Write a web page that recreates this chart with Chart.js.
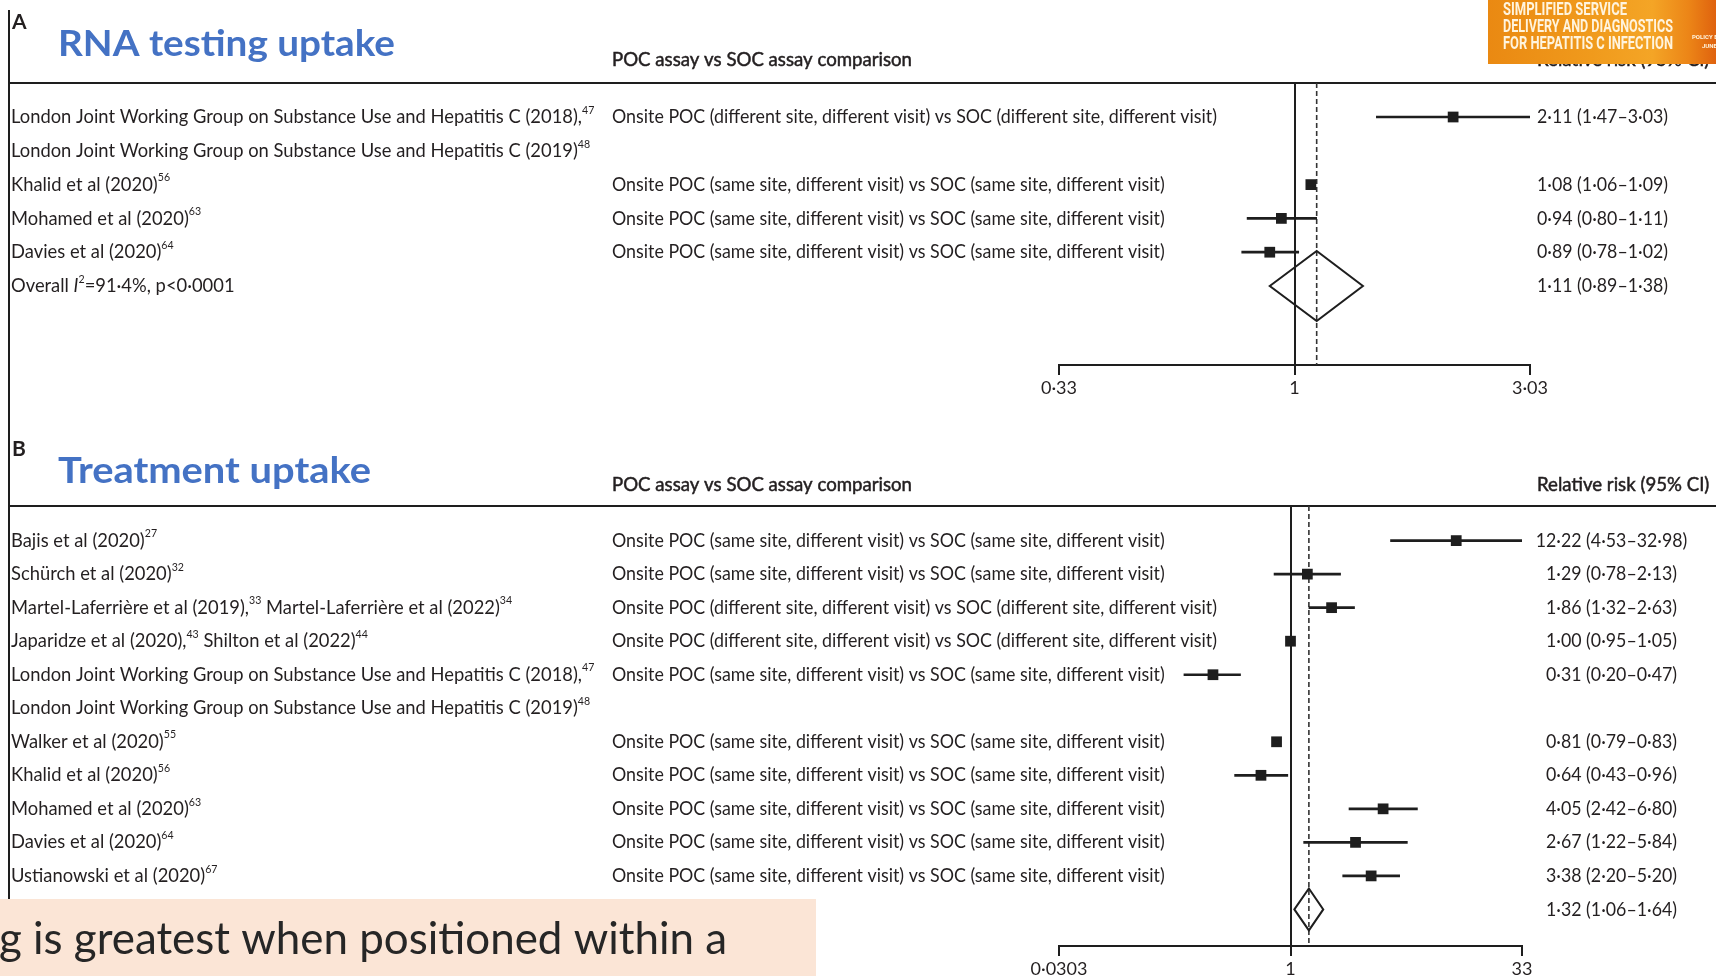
<!DOCTYPE html>
<html><head><meta charset="utf-8">
<script src="https://cdn.jsdelivr.net/npm/chart.js"></script>
<style>
html,body{margin:0;padding:0;background:#fff;width:1716px;height:976px;overflow:hidden;}
canvas{position:absolute;left:0;}
#cA{top:0;} #cB{top:420px;} #ov{top:0;pointer-events:none;}
</style></head><body>
<canvas id="cA" width="1716" height="410"></canvas>
<canvas id="cB" width="1716" height="556"></canvas>
<canvas id="ov" width="1716" height="976"></canvas>
<script>
// ================= DATA =================
const SAME = "Onsite POC (same site, different visit) vs SOC (same site, different visit)";
const DIFF = "Onsite POC (different site, different visit) vs SOC (different site, different visit)";

// Panel A – RNA testing uptake
const studiesA = [
  "London Joint Working Group on Substance Use and Hepatitis C (2018),^47^",
  "London Joint Working Group on Substance Use and Hepatitis C (2019)^48^",
  "Khalid et al (2020)^56^",
  "Mohamed et al (2020)^63^",
  "Davies et al (2020)^64^",
  "Overall ~I~^2^=91·4%, p<0·0001"
];
const comparisonsA = [DIFF, "", SAME, SAME, SAME, ""];
const rrA    = [2.11, null, 1.08, 0.94, 0.89, 1.11];
const lowerA = [1.47, null, 1.06, 0.80, 0.78, 0.89];
const upperA = [3.03, null, 1.09, 1.11, 1.02, 1.38];
const overallRowA = 5;
const tickValuesA = [0.33, 1, 3.03];
const tickLabelsA = ["0·33", "1", "3·03"];

// Panel B – Treatment uptake
const studiesB = [
  "Bajis et al (2020)^27^",
  "Schürch et al (2020)^32^",
  "Martel-Laferrière et al (2019),^33^ Martel-Laferrière et al (2022)^34^",
  "Japaridze et al (2020),^43^ Shilton et al (2022)^44^",
  "London Joint Working Group on Substance Use and Hepatitis C (2018),^47^",
  "London Joint Working Group on Substance Use and Hepatitis C (2019)^48^",
  "Walker et al (2020)^55^",
  "Khalid et al (2020)^56^",
  "Mohamed et al (2020)^63^",
  "Davies et al (2020)^64^",
  "Ustianowski et al (2020)^67^",
  ""
];
const comparisonsB = [SAME, SAME, DIFF, DIFF, SAME, "", SAME, SAME, SAME, SAME, SAME, ""];
const rrB    = [12.22, 1.29, 1.86, 1.00, 0.31, null, 0.81, 0.64, 4.05, 2.67, 3.38, 1.32];
const lowerB = [4.53, 0.78, 1.32, 0.95, 0.20, null, 0.79, 0.43, 2.42, 1.22, 2.20, 1.06];
const upperB = [32.98, 2.13, 2.63, 1.05, 0.47, null, 0.83, 0.96, 6.80, 5.84, 5.20, 1.64];
const overallRowB = 11;
const tickValuesB = [0.0303, 1, 33];
const tickLabelsB = ["0·0303", "1", "33"];

const headerComparison = "POC assay vs SOC assay comparison";
const headerRR = "Relative risk (95% CI)";
const bannerLines = ["SIMPLIFIED SERVICE", "DELIVERY AND DIAGNOSTICS", "FOR HEPATITIS C INFECTION"];
const bannerSmall = ["POLICY BRIEF", "JUNE"];
const footerText = "g is greatest when positioned within a";

// ================= STYLE / LAYOUT =================
const INK = '#1e1e1e';
const TEXT = '#231f20';
const BLUE = '#4472C4';
const FONT = 'Lato, "Open Sans", sans-serif';

const PANEL_A = {
  letter: 'A', title: 'RNA testing uptake', studies: studiesA, comparisons: comparisonsA,
  rr: rrA, lo: lowerA, hi: upperA, overall: overallRowA, ticks: tickValuesA, tickLabels: tickLabelsA,
  canvasH: 410, top: 83, bottom: 365, left: 1059, right: 1530, row0: 117, rowStep: 33.8, axisH: 40,
  rrX: 1537, letterBase: 29, titleBase: 56, titleW: 337, headY: 60, diamondHalf: 35
};
const PANEL_B = {
  letter: 'B', title: 'Treatment uptake', studies: studiesB, comparisons: comparisonsB,
  rr: rrB, lo: lowerB, hi: upperB, overall: overallRowB, ticks: tickValuesB, tickLabels: tickLabelsB,
  canvasH: 556, top: 86, bottom: 526, left: 1059, right: 1522, row0: 120.6, rowStep: 33.53, axisH: 30,
  rrX: 1546, letterBase: 36, titleBase: 63, titleW: 313, headY: 65, diamondHalf: 21
};

const fmt = v => v.toFixed(2).replace('.', '·');
const rrText = (P, i) => P.rr[i] == null ? "" : `${fmt(P.rr[i])} (${fmt(P.lo[i])}–${fmt(P.hi[i])})`;

function parseRich(t) {
  const out = []; const re = /\^([^^]*)\^|~([^~]*)~|([^^~]+)/g; let m;
  while ((m = re.exec(t))) {
    if (m[1] !== undefined) out.push({t: m[1], sup: true});
    else if (m[2] !== undefined) out.push({t: m[2], it: true});
    else out.push({t: m[3]});
  }
  return out;
}
const plain = t => parseRich(t).filter(s => !s.sup).map(s => s.t).join('');

let SX = {};
function measure(ctx, text, font) { ctx.font = font; return ctx.measureText(text).width; }

function drawRich(ctx, text, x, y, size, sx, opts = {}) {
  const segs = parseRich(text);
  ctx.save(); ctx.translate(x, y); ctx.scale(sx, 1);
  ctx.fillStyle = opts.color || TEXT; ctx.textBaseline = 'middle'; ctx.textAlign = 'left';
  let cx = 0;
  for (const s of segs) {
    const fs = s.sup ? Math.round(size * 0.6) : size;
    ctx.font = `${s.it ? 'italic ' : ''}${opts.weight || 'normal'} ${fs}px ${FONT}`;
    const dy = s.sup ? -size * 0.36 : 0;
    ctx.fillText(s.t, cx, dy);
    if (opts.stroke) { ctx.lineWidth = opts.stroke; ctx.strokeStyle = opts.color || TEXT; ctx.strokeText(s.t, cx, dy); }
    cx += ctx.measureText(s.t).width;
  }
  ctx.restore();
}

function forestPlugin(P) {
  return {
    id: 'forest' + P.letter,
    beforeDatasetsDraw(chart) {
      const {ctx, chartArea: a, scales: {x}} = chart;
      ctx.save();
      ctx.strokeStyle = INK; ctx.lineWidth = 2;
      ctx.beginPath(); ctx.moveTo(9, a.top); ctx.lineTo(chart.width, a.top); ctx.stroke();
      const x1 = Math.round(x.getPixelForValue(1));
      ctx.beginPath(); ctx.moveTo(x1, a.top); ctx.lineTo(x1, a.bottom); ctx.stroke();
      const xo = x.getPixelForValue(P.rr[P.overall]);
      ctx.setLineDash([5, 3]); ctx.lineWidth = 1.6; ctx.strokeStyle = '#333';
      ctx.beginPath(); ctx.moveTo(xo, a.top); ctx.lineTo(xo, a.bottom); ctx.stroke();
      ctx.restore();
    },
    afterDatasetsDraw(chart) {
      const {ctx, scales: {x, y}} = chart;
      const i = P.overall;
      const yc = y.getPixelForValue(i), h = P.diamondHalf;
      const xl = x.getPixelForValue(P.lo[i]), xm = x.getPixelForValue(P.rr[i]), xr = x.getPixelForValue(P.hi[i]);
      ctx.save(); ctx.strokeStyle = INK; ctx.lineWidth = 2; ctx.lineJoin = 'miter';
      ctx.beginPath(); ctx.moveTo(xl, yc); ctx.lineTo(xm, yc - h); ctx.lineTo(xr, yc); ctx.lineTo(xm, yc + h); ctx.closePath(); ctx.stroke();
      ctx.restore();
    },
    afterDraw(chart) {
      const {ctx, scales: {y}} = chart;
      ctx.save();
      ctx.fillStyle = TEXT; ctx.textBaseline = 'alphabetic';
      ctx.font = `bold 21px ${FONT}`; ctx.fillText(P.letter, 12, P.letterBase);
      const tf = `bold 36px ${FONT}`;
      const tsx = P.titleW / measure(ctx, P.title, tf);
      ctx.save(); ctx.translate(58, P.titleBase); ctx.scale(tsx, 1);
      ctx.font = tf; ctx.fillStyle = BLUE; ctx.fillText(P.title, 0, 0); ctx.restore();
      drawRich(ctx, headerComparison, 612, P.headY, 19, SX.head, {stroke: 0.5});
      drawRich(ctx, headerRR, 1537, P.headY, 19, SX.head, {stroke: 0.5});
      P.studies.forEach((s, i) => {
        const yy = y.getPixelForValue(i);
        if (s) drawRich(ctx, s, 11, yy, 19, SX.study);
        if (P.comparisons[i]) drawRich(ctx, P.comparisons[i], 612, yy, 19, SX.comp);
        const t = rrText(P, i);
        if (t) {
          const intPart = fmt(P.rr[i]).split('·')[0];
          const f = `normal 19px ${FONT}`;
          const off = (measure(ctx, intPart, f) - measure(ctx, '0', f)) * SX.rr;
          drawRich(ctx, t, P.rrX - off, yy, 19, SX.rr);
        }
      });
      ctx.restore();
    }
  };
}

function makeChart(canvasId, P) {
  const bars = [], points = [];
  P.rr.forEach((v, i) => {
    if (v == null || i === P.overall) return;
    bars.push({x: [P.lo[i], P.hi[i]], y: i});
    points.push({x: v, y: i});
  });
  const yMin = -(P.row0 - P.top) / P.rowStep;
  const yMax = (P.bottom - P.row0) / P.rowStep;
  return new Chart(document.getElementById(canvasId), {
    type: 'scatter',
    data: {
      datasets: [
        {type: 'bar', indexAxis: 'y', data: bars, backgroundColor: INK, borderWidth: 0,
         barThickness: 2, grouped: false, borderSkipped: false},
        {type: 'scatter', data: points, pointStyle: 'rect', pointRadius: 7.6,
         backgroundColor: INK, borderWidth: 0, showLine: false}
      ]
    },
    options: {
      responsive: false, animation: false, devicePixelRatio: 1, events: [],
      layout: {padding: {left: P.left, right: 1716 - P.right, top: P.top, bottom: P.canvasH - P.bottom - P.axisH}},
      plugins: {legend: {display: false}, tooltip: {enabled: false}, title: {display: false}},
      scales: {
        x: {
          type: 'logarithmic', position: 'bottom', bounds: 'data',
          min: P.ticks[0], max: P.ticks[P.ticks.length - 1], offset: false,
          afterBuildTicks: s => { s.ticks = P.ticks.map(v => ({value: v})); },
          afterFit: s => { s.height = P.axisH; },
          ticks: {autoSkip: false, maxRotation: 0, minRotation: 0, padding: 2, color: TEXT,
                  font: {family: FONT, size: 18}, callback: (v, i) => P.tickLabels[i]},
          grid: {display: true, drawOnChartArea: false, drawTicks: true, tickLength: 10,
                 color: INK, lineWidth: 2, offset: false},
          border: {display: true, color: INK, width: 2}
        },
        y: {type: 'linear', display: false, reverse: true, bounds: 'data', min: yMin, max: yMax, offset: false}
      }
    },
    plugins: [forestPlugin(P)]
  });
}

function drawOverlay() {
  const c = document.getElementById('ov'); const ctx = c.getContext('2d');
  ctx.fillStyle = INK; ctx.fillRect(8, 10, 2, 966);
  const g = ctx.createLinearGradient(1488, 0, 1716, 0);
  g.addColorStop(0, '#EA8912'); g.addColorStop(0.45, '#F09A1C'); g.addColorStop(0.72, '#F4A526');
  g.addColorStop(0.88, '#EC8517'); g.addColorStop(1, '#DF620E');
  ctx.fillStyle = g; ctx.fillRect(1488, 0, 228, 64);
  const bf = `bold 19px Roboto, ${FONT}`;
  const widths = [124, 170, 170], bases = [15, 32, 49];
  bannerLines.forEach((t, i) => {
    const s = widths[i] / measure(ctx, t, bf);
    ctx.save(); ctx.translate(1503, bases[i]); ctx.scale(s, 1);
    ctx.font = bf; ctx.fillStyle = '#FFF4DE'; ctx.textBaseline = 'alphabetic'; ctx.fillText(t, 0, 0); ctx.restore();
  });
  ctx.save(); ctx.font = `bold 6px Roboto, ${FONT}`; ctx.fillStyle = '#FFF4DE';
  ctx.fillText(bannerSmall[0], 1692, 39); ctx.fillText(bannerSmall[1], 1702, 48); ctx.restore();
  ctx.fillStyle = '#FBE5D6'; ctx.fillRect(0, 899, 816, 77);
  const ff = `normal 44px ${FONT}`;
  const fs = 728 / measure(ctx, footerText, ff);
  ctx.save(); ctx.translate(-1, 954); ctx.scale(fs, 1);
  ctx.font = ff; ctx.fillStyle = '#262626'; ctx.textBaseline = 'alphabetic'; ctx.fillText(footerText, 0, 0); ctx.restore();
}

function render() {
  const ctx = document.createElement('canvas').getContext('2d');
  const f = `normal 19px ${FONT}`;
  SX.study = 571 / measure(ctx, plain(studiesB[4]), f);
  SX.comp = 605 / measure(ctx, DIFF, f);
  SX.rr = 131 / measure(ctx, rrText(PANEL_A, 0), f);
  SX.head = 300 / measure(ctx, headerComparison, f);
  Chart.defaults.font.family = FONT;
  makeChart('cA', PANEL_A);
  makeChart('cB', PANEL_B);
  drawOverlay();
}

Promise.all([
  document.fonts.load(`19px Lato`), document.fonts.load(`bold 36px Lato`),
  document.fonts.load(`italic 19px Lato`), document.fonts.load(`bold 18px Roboto`)
]).then(render, render);
</script>
</body></html>
